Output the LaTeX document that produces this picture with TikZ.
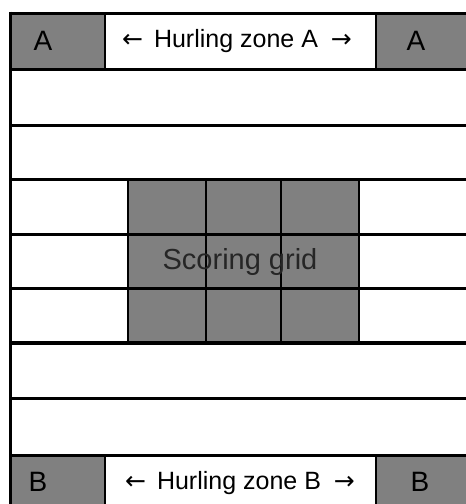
\documentclass[tikz,border=0pt]{standalone}
\usepackage{fontspec}
\setmainfont{Liberation Sans}
\newfontfamily\arrowfont{DejaVu Sans}
\usetikzlibrary{positioning}
\definecolor{pitchgray}{RGB}{128,128,128}
\tikzset{
  zonebox/.style={fill=pitchgray},
  rowline/.style={line width=3pt},
  cellline/.style={line width=2.2pt},
  endlabel/.style={font=\fontsize{28}{28}\selectfont,inner sep=0pt},
  zonelabel/.style={font=\fontsize{25}{25}\selectfont,inner sep=0pt}
}
\begin{document}
\begin{tikzpicture}[x=1pt,y=-1pt]
\useasboundingbox (0,0) rectangle (466,504);
% end boxes and scoring grid
\fill[zonebox] (10,13) rectangle (105,69);
\fill[zonebox] (376,13) rectangle (466,69);
\fill[zonebox] (10,455) rectangle (105,504);
\fill[zonebox] (376,455) rectangle (466,504);
\fill[zonebox] (128,179) rectangle (359,343);
% rows
\foreach \y in {13,69,125,179,234,288,398,455}{
  \draw[rowline] (10,\y) -- (466,\y);
}
\draw[line width=3.8pt] (10,343) -- (466,343);
\draw[rowline] (10,11.5) -- (10,504);
\foreach \x in {105,376}{
  \draw[cellline] (\x,13) -- (\x,69);
  \draw[cellline] (\x,455) -- (\x,504);
}
\foreach \x in {128,206,281,359}{
  \draw[cellline] (\x,179) -- (\x,343);
}
% labels
\node[endlabel] (endA1) at (43,41) {A};
\node[endlabel] (endA2) at (416,41) {A};
\node[endlabel] (endB1) at (38,482) {B};
\node[endlabel] (endB2) at (420,482) {B};
\node[zonelabel] (zoneA) at (237,41) {{\arrowfont ←}\hspace{11pt}Hurling zone A\hspace{13pt}{\arrowfont →}};
\node[zonelabel] (zoneB) at (240,483) {{\arrowfont ←}\hspace{11pt}Hurling zone B\hspace{13pt}{\arrowfont →}};
\node[font=\fontsize{29}{29}\selectfont,text=black!85,inner sep=0pt] (grid) at (240,262) {Scoring grid};
\end{tikzpicture}
\end{document}
